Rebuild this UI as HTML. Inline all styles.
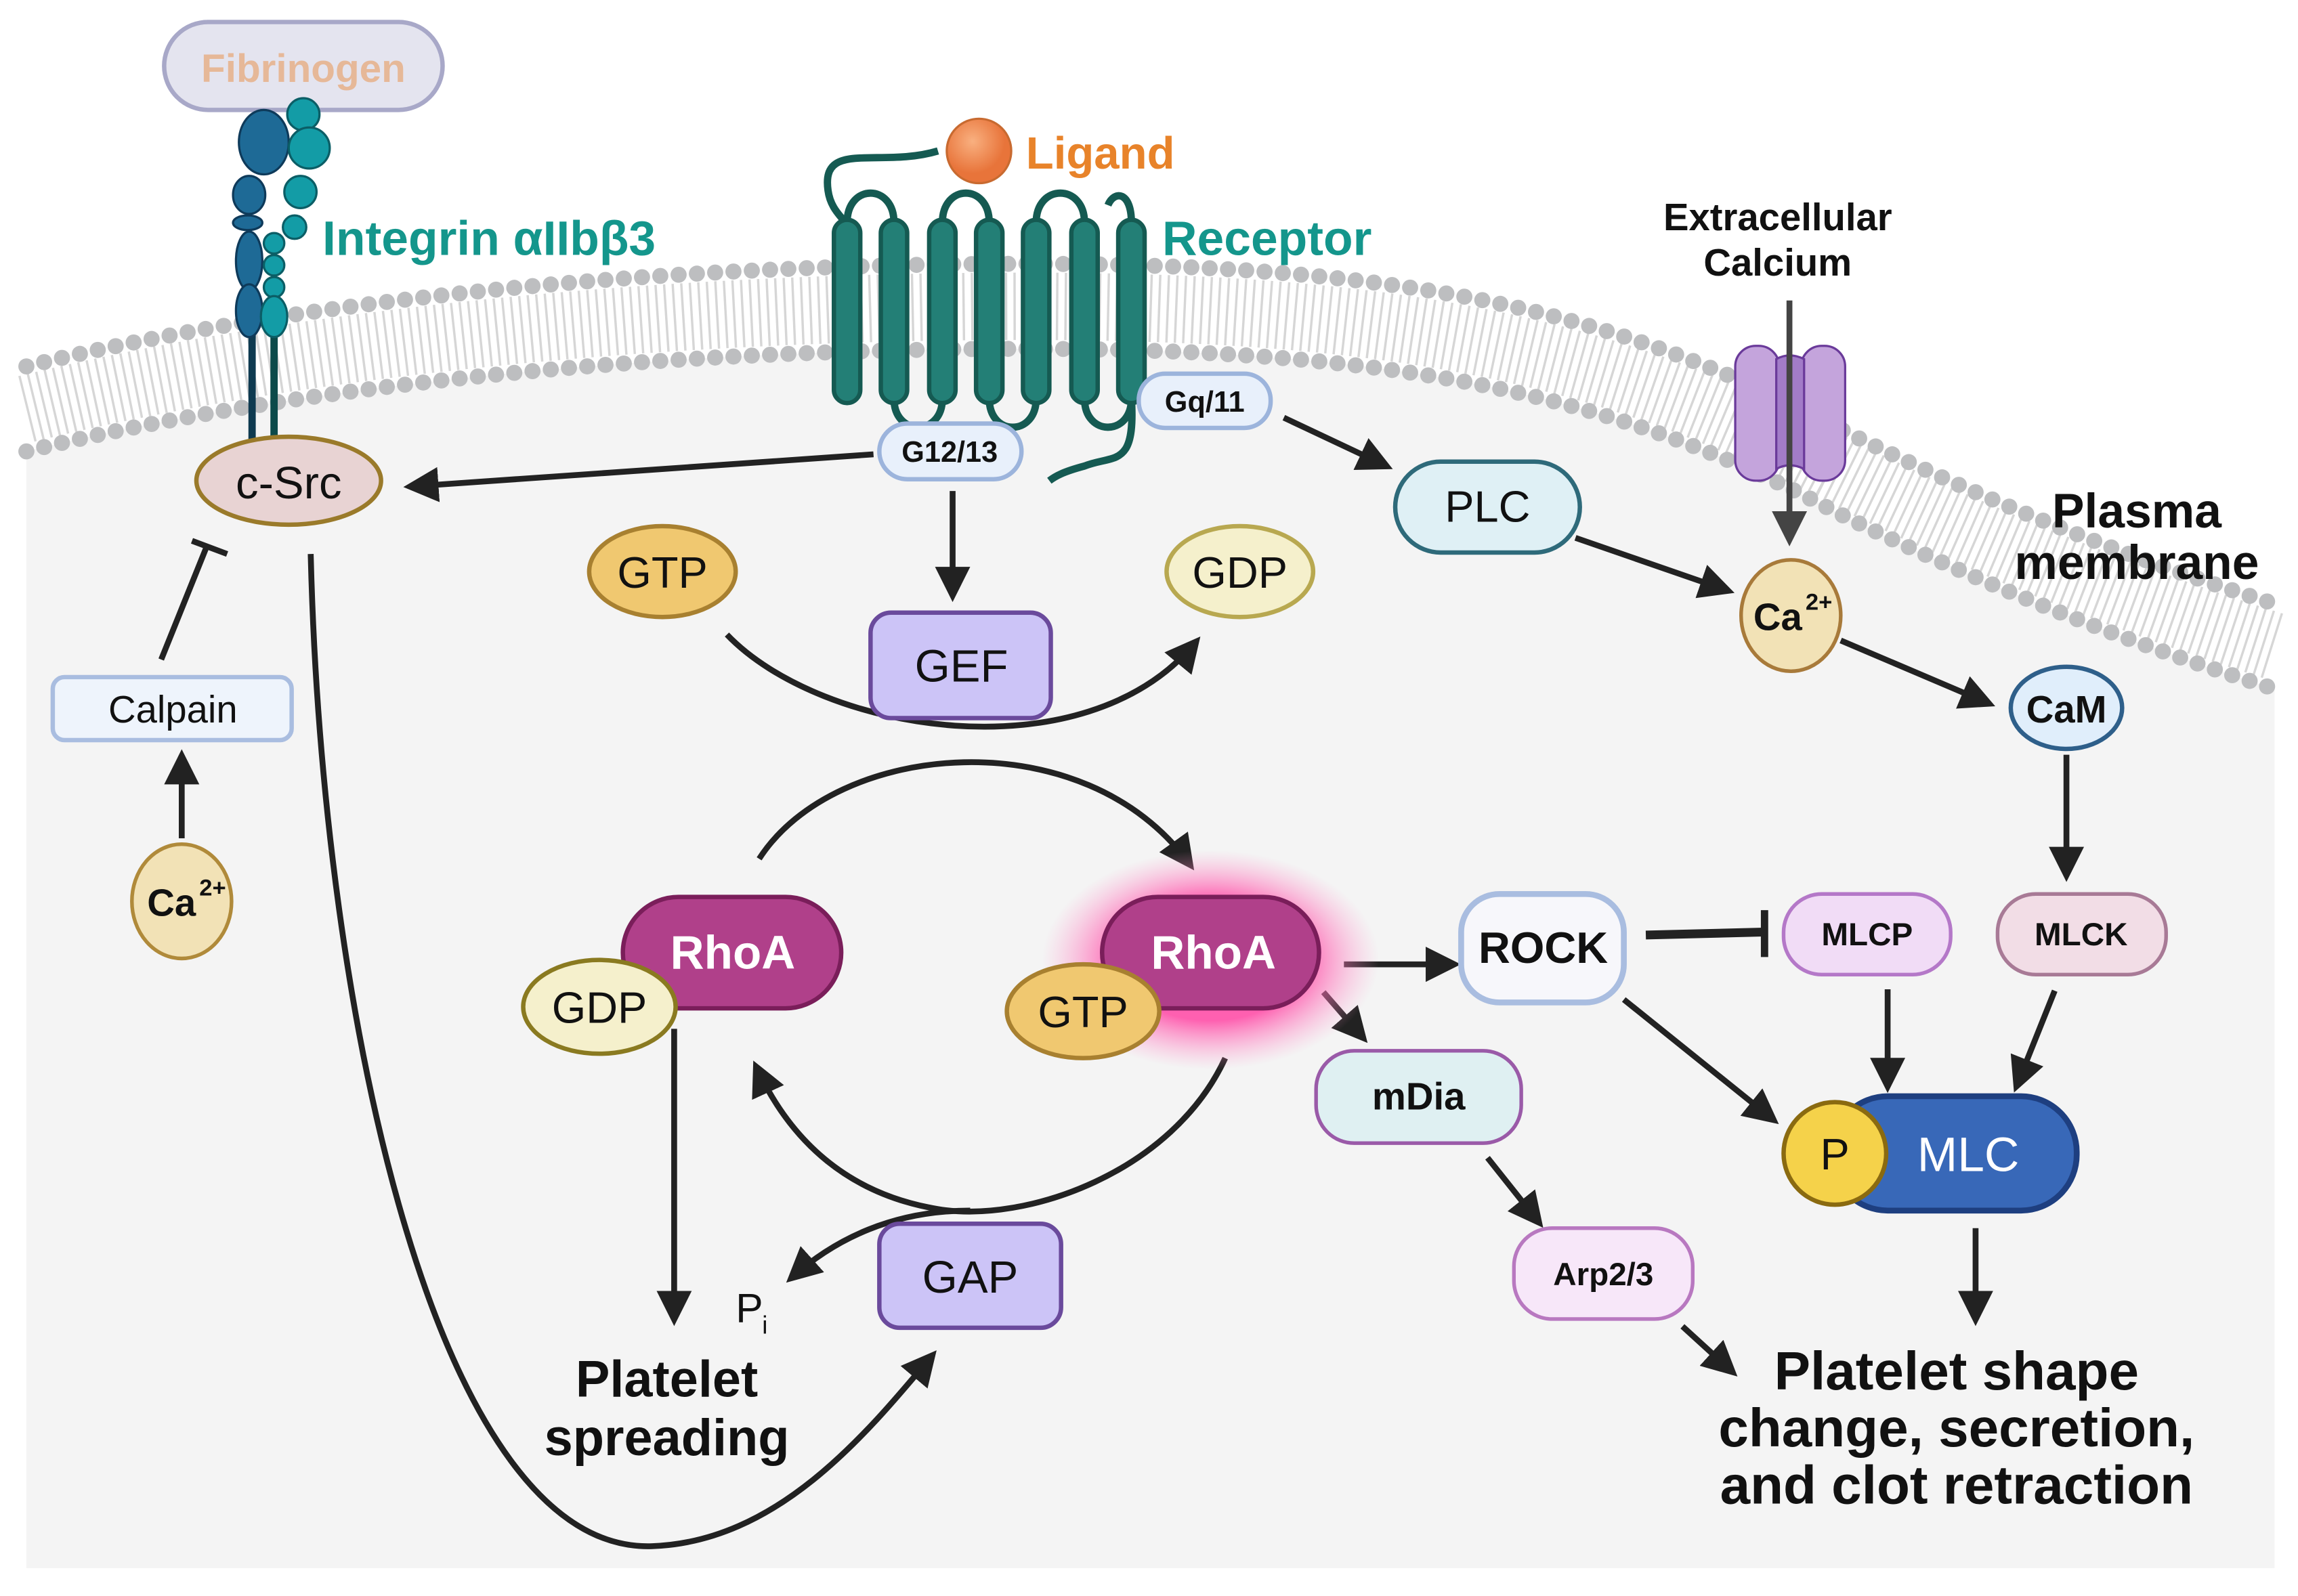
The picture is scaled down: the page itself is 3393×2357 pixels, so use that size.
<!DOCTYPE html>
<html><head><meta charset="utf-8"><style>
html,body{margin:0;padding:0;background:#fff}
svg{display:block}
text{font-family:"Liberation Sans",Arial,sans-serif}
</style></head><body>
<svg width="3393" height="2357" viewBox="0 0 1568 1089" preserveAspectRatio="none" xmlns="http://www.w3.org/2000/svg">
<defs>
<marker id="a" viewBox="0 0 10 10" refX="8" refY="5" markerWidth="6" markerHeight="6" orient="auto" markerUnits="strokeWidth"><path d="M0,0 L10,5 L0,10 z" fill="#222"/></marker>
<marker id="a2" viewBox="0 0 10 10" refX="8" refY="5" markerWidth="6" markerHeight="6" orient="auto" markerUnits="strokeWidth"><path d="M0,0 L10,5 L0,10 z" fill="#444"/></marker>
<radialGradient id="glow"><stop offset="0.55" stop-color="#ff4fa8" stop-opacity="0.9"/><stop offset="1" stop-color="#ff9fd0" stop-opacity="0"/></radialGradient>
<radialGradient id="lig" cx="0.4" cy="0.35"><stop offset="0" stop-color="#f9b080"/><stop offset="1" stop-color="#e8743a"/></radialGradient>
</defs>
<path d="M18,308 C200,263 450,238 700,238 C950,238 1100,268 1250,348 C1350,398 1450,438 1552,470 L1552,1070 L18,1070 Z" fill="#f4f4f4"/>
<path d="M18,250 C200,205 450,180 700,180 C950,180 1100,210 1250,290 C1350,340 1450,380 1552,412 L1552,470 C1450,438 1350,398 1250,348 C1100,268 950,238 700,238 C450,238 200,263 18,308 Z" fill="#fff"/>
<path d="M18,279 C200,234 450,209 700,209 C950,209 1100,239 1250,319 C1350,369 1450,409 1552,441" fill="none" stroke="#d6d6d6" stroke-width="46" stroke-dasharray="1.6 4.2"/>
<path d="M18,250 C200,205 450,180 700,180 C950,180 1100,210 1250,290 C1350,340 1450,380 1552,412" fill="none" stroke="#bdbec0" stroke-width="11" stroke-linecap="round" stroke-dasharray="0 12.5"/>
<path d="M18,308 C200,263 450,238 700,238 C950,238 1100,268 1250,348 C1350,398 1450,438 1552,470" fill="none" stroke="#bdbec0" stroke-width="11" stroke-linecap="round" stroke-dasharray="0 12.5"/>

<rect x="112" y="15" width="190" height="60" rx="30" fill="#e4e4ef" stroke="#a8a8c8" stroke-width="3"/>
<text x="207" y="56" font-size="27" font-weight="bold" fill="#e6b898" text-anchor="middle">Fibrinogen</text>
<line x1="172" y1="225" x2="172" y2="302" stroke="#0e3a50" stroke-width="5"/>
<line x1="187" y1="230" x2="187" y2="304" stroke="#0c4a4a" stroke-width="5"/>
<g fill="#1e6a96" stroke="#0e3a5a" stroke-width="1.5">
<ellipse cx="180" cy="97" rx="17" ry="22"/><ellipse cx="170" cy="133" rx="11" ry="13"/><ellipse cx="169" cy="152" rx="10" ry="5"/>
<ellipse cx="170" cy="178" rx="9" ry="20"/><ellipse cx="170" cy="212" rx="9" ry="18"/></g>
<g fill="#139ca6" stroke="#0b5e66" stroke-width="1.5">
<circle cx="207" cy="78" r="11"/><circle cx="211" cy="101" r="14"/><circle cx="205" cy="131" r="11"/><circle cx="201" cy="155" r="8"/>
<circle cx="187" cy="166" r="7"/><circle cx="187" cy="181" r="7"/><circle cx="187" cy="196" r="7"/><ellipse cx="187" cy="216" rx="9" ry="14"/></g>
<text x="220" y="174" font-size="33" font-weight="bold" fill="#14968c">Integrin αIIbβ3</text>

<circle cx="668" cy="103" r="22" fill="url(#lig)" stroke="#c86a30" stroke-width="1.5"/>
<text x="700" y="115" font-size="31" font-weight="bold" fill="#e8832a">Ligand</text>
<path d="M640,103 C600,115 560,95 565,130 C567,145 578,150 578,155" fill="none" stroke="#155a52" stroke-width="5"/>
<g fill="none" stroke="#155a52" stroke-width="5">
<path d="M578,152 C578,125 610,125 610,152"/><path d="M643,152 C643,125 675,125 675,152"/><path d="M707,152 C707,125 740,125 740,152"/>
<path d="M772,152 C772,130 760,130 756,140"/>
<path d="M610,272 C610,298 643,298 643,272"/><path d="M675,272 C675,298 707,298 707,272"/><path d="M740,272 C740,298 772,298 772,272"/>
<path d="M772,272 C775,320 760,310 740,318 C725,322 720,325 716,328"/>
</g>
<g fill="#237f76" stroke="#155a52" stroke-width="3">
<rect x="569" y="150" width="18" height="125" rx="9"/><rect x="601" y="150" width="18" height="125" rx="9"/><rect x="634" y="150" width="18" height="125" rx="9"/>
<rect x="666" y="150" width="18" height="125" rx="9"/><rect x="698" y="150" width="18" height="125" rx="9"/><rect x="731" y="150" width="18" height="125" rx="9"/><rect x="763" y="150" width="18" height="125" rx="9"/>
</g>
<text x="793" y="174" font-size="33" font-weight="bold" fill="#14968c">Receptor</text>
<rect x="777" y="255" width="90" height="37" rx="18" fill="#e8f0fb" stroke="#9cb4dc" stroke-width="3"/>
<text x="822" y="281" font-size="20" font-weight="bold" fill="#111" text-anchor="middle">Gq/11</text>
<rect x="600" y="289" width="97" height="38" rx="19" fill="#e8f0fb" stroke="#9cb4dc" stroke-width="3"/>
<text x="648" y="315" font-size="20" font-weight="bold" fill="#111" text-anchor="middle">G12/13</text>

<text x="1213" y="157" font-size="26" font-weight="bold" fill="#111" text-anchor="middle">Extracellular</text>
<text x="1213" y="188" font-size="26" font-weight="bold" fill="#111" text-anchor="middle">Calcium</text>
<rect x="1184" y="236" width="30" height="92" rx="14" fill="#c4a4dc" stroke="#6a3a9a" stroke-width="1.5"/>
<rect x="1229" y="236" width="30" height="92" rx="14" fill="#c4a4dc" stroke="#6a3a9a" stroke-width="1.5"/>
<path d="M1212,245 Q1221,240 1231,245 L1231,320 Q1221,315 1212,320 Z" fill="#a27cc8" stroke="#6a3a9a" stroke-width="1.5"/>
<line x1="1221" y1="205" x2="1221" y2="368" stroke="#444" stroke-width="4" marker-end="url(#a2)"/>
<text x="1458" y="360" font-size="33" font-weight="bold" fill="#111" text-anchor="middle">Plasma</text>
<text x="1458" y="395" font-size="33" font-weight="bold" fill="#111" text-anchor="middle">membrane</text>

<g stroke="#222" stroke-width="4" fill="none">
<line x1="596" y1="310" x2="280" y2="332" marker-end="url(#a)"/>
<line x1="650" y1="335" x2="650" y2="406" marker-end="url(#a)"/>
<path d="M496,433 C560,500 740,530 816,438" marker-end="url(#a)"/>
<path d="M518,586 C570,505 740,490 812,590" marker-end="url(#a)"/>
<path d="M836,722 C800,800 700,835 640,825 C580,815 540,780 516,728" marker-end="url(#a)"/>
<path d="M662,826 C610,826 570,845 540,872" marker-end="url(#a)"/>
<line x1="460" y1="702" x2="460" y2="900" marker-end="url(#a)"/>
<path d="M212,378 C220,700 300,1060 445,1055 C530,1052 590,980 636,925" marker-end="url(#a)"/>
<line x1="110" y1="450" x2="141" y2="373"/>
<line x1="131" y1="369" x2="155" y2="378"/>
<line x1="124" y1="572" x2="124" y2="516" marker-end="url(#a)"/>
<line x1="917" y1="658" x2="992" y2="658" marker-end="url(#a)"/>
<line x1="903" y1="677" x2="930" y2="708" marker-end="url(#a)"/>
<line x1="1015" y1="790" x2="1050" y2="834" marker-end="url(#a)"/>
<line x1="1148" y1="905" x2="1182" y2="936" marker-end="url(#a)"/>
<line x1="1123" y1="638" x2="1203" y2="636" stroke-width="6"/>
<line x1="1204" y1="621" x2="1204" y2="653" stroke-width="5"/>
<line x1="1108" y1="682" x2="1210" y2="764" marker-end="url(#a)"/>
<line x1="876" y1="285" x2="946" y2="318" marker-end="url(#a)"/>
<line x1="1075" y1="367" x2="1179" y2="403" marker-end="url(#a)"/>
<line x1="1256" y1="437" x2="1357" y2="480" marker-end="url(#a)"/>
<line x1="1410" y1="515" x2="1410" y2="597" marker-end="url(#a)"/>
<line x1="1288" y1="675" x2="1288" y2="741" marker-end="url(#a)"/>
<line x1="1402" y1="676" x2="1376" y2="741" marker-end="url(#a)"/>
<line x1="1348" y1="838" x2="1348" y2="900" marker-end="url(#a)"/>
</g>

<ellipse cx="197" cy="328" rx="63" ry="30" fill="#e8d3d3" stroke="#9a7a2a" stroke-width="3"/>
<text x="197" y="340" font-size="31" fill="#111" text-anchor="middle">c-Src</text>
<rect x="36" y="462" width="163" height="43" rx="8" fill="#eef4fc" stroke="#a9bde0" stroke-width="3"/>
<text x="118" y="493" font-size="26" fill="#111" text-anchor="middle">Calpain</text>
<ellipse cx="124" cy="615" rx="34" ry="39" fill="#f2e2b6" stroke="#b08a3a" stroke-width="2.5"/>
<text x="117" y="625" font-size="26" font-weight="bold" fill="#111" text-anchor="middle">Ca</text><text x="136" y="611" font-size="16" font-weight="bold" fill="#111">2+</text>

<ellipse cx="452" cy="390" rx="50" ry="31" fill="#f0c870" stroke="#a88030" stroke-width="3"/>
<text x="452" y="401" font-size="30" fill="#111" text-anchor="middle">GTP</text>
<ellipse cx="846" cy="390" rx="50" ry="31" fill="#f5f0cc" stroke="#b8a850" stroke-width="3"/>
<text x="846" y="401" font-size="30" fill="#111" text-anchor="middle">GDP</text>
<rect x="594" y="418" width="123" height="72" rx="14" fill="#ccc4f7" stroke="#6a4a9c" stroke-width="3"/>
<text x="656" y="465" font-size="31" fill="#111" text-anchor="middle">GEF</text>

<rect x="425" y="612" width="149" height="76" rx="38" fill="#b0408a" stroke="#7a1e5a" stroke-width="3"/>
<text x="500" y="661" font-size="32" font-weight="bold" fill="#fff" text-anchor="middle">RhoA</text>
<ellipse cx="409" cy="687" rx="52" ry="32" fill="#f5f0cc" stroke="#8a7a20" stroke-width="3"/>
<text x="409" y="698" font-size="30" fill="#111" text-anchor="middle">GDP</text>
<ellipse cx="826" cy="655" rx="115" ry="75" fill="url(#glow)"/>
<rect x="752" y="612" width="148" height="76" rx="38" fill="#b0408a" stroke="#7a1e5a" stroke-width="3"/>
<text x="828" y="661" font-size="32" font-weight="bold" fill="#fff" text-anchor="middle">RhoA</text>
<ellipse cx="739" cy="690" rx="52" ry="32" fill="#f0c870" stroke="#a88030" stroke-width="3"/>
<text x="739" y="701" font-size="30" fill="#111" text-anchor="middle">GTP</text>

<text x="455" y="953" font-size="35" font-weight="bold" fill="#111" text-anchor="middle">Platelet</text>
<text x="455" y="993" font-size="35" font-weight="bold" fill="#111" text-anchor="middle">spreading</text>
<text x="502" y="902" font-size="28" fill="#111">P</text><text x="520" y="910" font-size="17" fill="#111">i</text>
<rect x="600" y="835" width="124" height="71" rx="14" fill="#ccc4f7" stroke="#6a4a9c" stroke-width="3"/>
<text x="662" y="882" font-size="31" fill="#111" text-anchor="middle">GAP</text>

<rect x="952" y="315" width="126" height="62" rx="31" fill="#dff0f5" stroke="#2e6a7a" stroke-width="3"/>
<text x="1015" y="356" font-size="30" fill="#111" text-anchor="middle">PLC</text>
<ellipse cx="1222" cy="420" rx="34" ry="38" fill="#f2e2b6" stroke="#a87a3a" stroke-width="2.5"/>
<text x="1213" y="430" font-size="26" font-weight="bold" fill="#111" text-anchor="middle">Ca</text><text x="1232" y="416" font-size="16" font-weight="bold" fill="#111">2+</text>
<ellipse cx="1410" cy="483" rx="38" ry="28" fill="#e0eefb" stroke="#2e5f8a" stroke-width="3"/>
<text x="1410" y="493" font-size="26" font-weight="bold" fill="#111" text-anchor="middle">CaM</text>
<rect x="997" y="610" width="111" height="74" rx="26" fill="#f7f7fb" stroke="#a9bde0" stroke-width="4"/>
<text x="1053" y="657" font-size="30" font-weight="bold" fill="#111" text-anchor="middle">ROCK</text>
<rect x="898" y="717" width="140" height="63" rx="26" fill="#dff0f2" stroke="#9a5aa8" stroke-width="2.5"/>
<text x="968" y="757" font-size="26" font-weight="bold" fill="#111" text-anchor="middle">mDia</text>
<rect x="1033" y="838" width="122" height="62" rx="26" fill="#f7e7f9" stroke="#b878c0" stroke-width="2.5"/>
<text x="1094" y="877" font-size="22" font-weight="bold" fill="#111" text-anchor="middle">Arp2/3</text>
<rect x="1217" y="610" width="114" height="55" rx="26" fill="#f1dcf6" stroke="#b478c8" stroke-width="2.5"/>
<text x="1274" y="645" font-size="22" font-weight="bold" fill="#111" text-anchor="middle">MLCP</text>
<rect x="1363" y="610" width="115" height="55" rx="26" fill="#f2dde6" stroke="#a87a96" stroke-width="2.5"/>
<text x="1420" y="645" font-size="22" font-weight="bold" fill="#111" text-anchor="middle">MLCK</text>
<rect x="1250" y="748" width="167" height="78" rx="38" fill="#3868b8" stroke="#1e3f80" stroke-width="4"/>
<text x="1343" y="799" font-size="33" fill="#fff" text-anchor="middle">MLC</text>
<circle cx="1252" cy="787" r="35" fill="#f5d24a" stroke="#8a6a10" stroke-width="3"/>
<text x="1252" y="798" font-size="30" fill="#111" text-anchor="middle">P</text>
<text x="1335" y="948" font-size="37" font-weight="bold" fill="#111" text-anchor="middle">Platelet shape</text>
<text x="1335" y="987" font-size="37" font-weight="bold" fill="#111" text-anchor="middle">change, secretion,</text>
<text x="1335" y="1026" font-size="37" font-weight="bold" fill="#111" text-anchor="middle">and clot retraction</text>
</svg>
</body></html>
